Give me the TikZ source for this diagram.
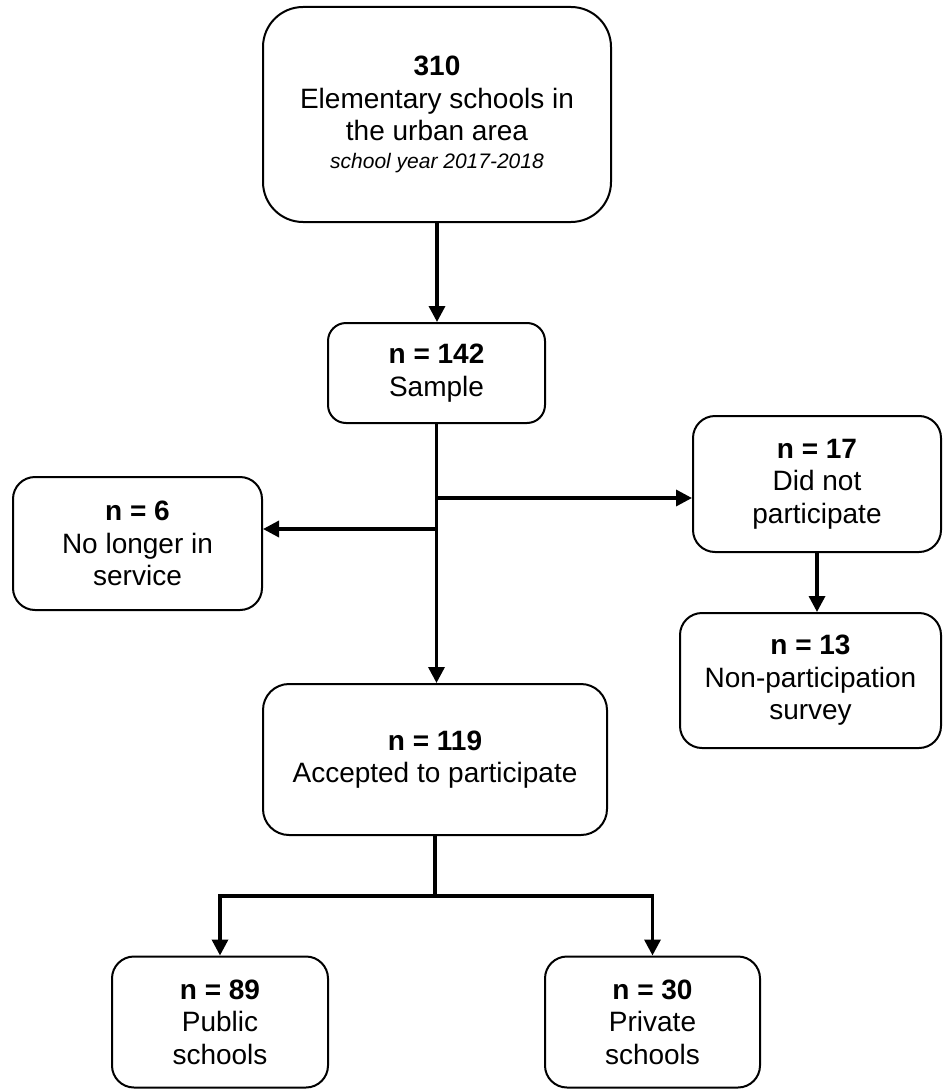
\documentclass[tikz,border=0pt]{standalone}
\usepackage{fontspec}
\setmainfont{Liberation Sans}
\usetikzlibrary{arrows.meta}
\begin{document}
\begin{tikzpicture}[x=1pt,y=-1pt,
  box/.style={draw=black, line width=2pt, fill=white, align=center, inner sep=0pt,
    font=\fontsize{28}{32.5}\selectfont},
  conn/.style={draw=black, line width=3.4pt, -{Triangle[length=16pt,width=16pt]}},
  plain/.style={draw=black, line width=3.4pt}]
\useasboundingbox (0,0) rectangle (943,1089);
\node[box, rounded corners=40pt, minimum width=348pt, minimum height=215pt] (top) at (437,114.5)
  {\textbf{310}\\Elementary schools in\\the urban area\\[-5pt]{\itshape\fontsize{21}{25}\selectfont school year 2017-2018}};
\node[box, rounded corners=18pt, minimum width=217pt, minimum height=100pt] (sample) at (436.5,373)
  {\textbf{n = 142}\\Sample};
\node[box, rounded corners=22pt, minimum width=249pt, minimum height=133pt] (left) at (137.5,543.5)
  {\textbf{n = 6}\\No longer in\\service};
\node[box, rounded corners=22pt, minimum width=248pt, minimum height=136pt] (dnp) at (817,484)
  {\textbf{n = 17}\\Did not\\participate};
\node[box, rounded corners=22pt, minimum width=261pt, minimum height=135pt] (nps) at (810.5,680.5)
  {\textbf{n = 13}\\Non-participation\\survey};
\node[box, rounded corners=26pt, minimum width=344pt, minimum height=151pt] (acc) at (435,759.5)
  {\textbf{n = 119}\\Accepted to participate};
\node[box, rounded corners=22pt, minimum width=216pt, minimum height=131pt] (pub) at (220,1022)
  {\textbf{n = 89}\\Public\\schools};
\node[box, rounded corners=22pt, minimum width=215pt, minimum height=131pt] (priv) at (652.5,1022)
  {\textbf{n = 30}\\Private\\schools};
\coordinate (bR) at (sample.south |- 0,498);
\coordinate (bL) at (sample.south |- 0,529);
\coordinate (bB) at (acc.south |- 0,896);
\draw[conn] (top.south) -- (top.south |- sample.north);
\draw[conn] (sample.south) -- (sample.south |- acc.north);
\draw[conn] (bR) -- (bR -| dnp.west);
\draw[conn] (bL) -- (bL -| left.east);
\draw[conn] (dnp.south) -- (dnp.south |- nps.north);
\draw[plain] (acc.south) -- (bB);
\draw[conn] (bB) -| (pub.north);
\draw[conn] (bB) -| (priv.north);
\end{tikzpicture}
\end{document}
